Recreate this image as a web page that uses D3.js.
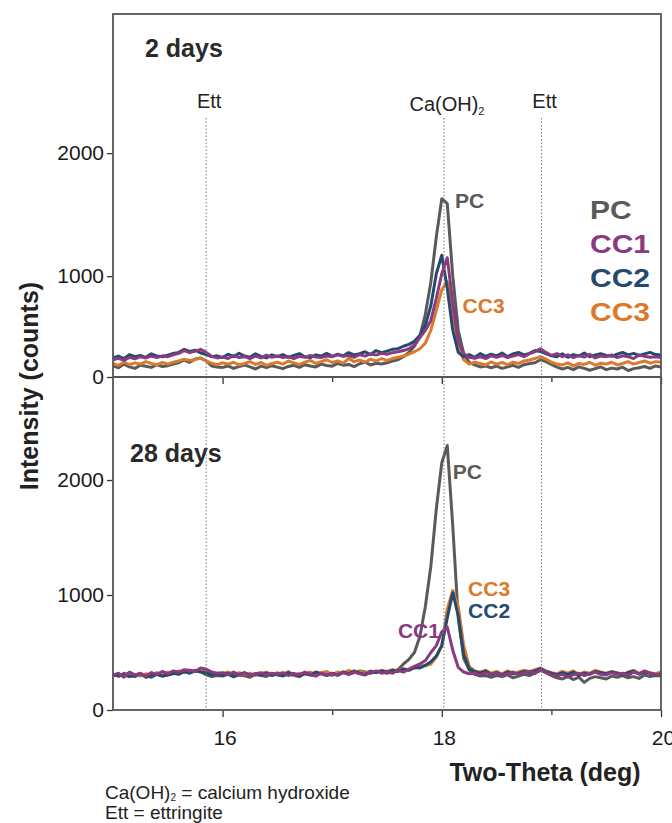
<!DOCTYPE html>
<html>
<head>
<meta charset="utf-8">
<script src="https://cdn.jsdelivr.net/npm/d3@7"></script>
<style>
	body { margin: 0; background: #fff; }
	text { font-family: "Liberation Sans", Arial, sans-serif; }
</style>
</head>
<body>
<div id="chart"></div>
<script>
// scan positions (deg), one row = 0.5 deg
const twoTheta = [
	15.00, 15.05, 15.10, 15.15, 15.20, 15.25, 15.30, 15.35, 15.40, 15.45,
	15.50, 15.55, 15.60, 15.65, 15.70, 15.75, 15.80, 15.85, 15.90, 15.95,
	16.00, 16.05, 16.10, 16.15, 16.20, 16.25, 16.30, 16.35, 16.40, 16.45,
	16.50, 16.55, 16.60, 16.65, 16.70, 16.75, 16.80, 16.85, 16.90, 16.95,
	17.00, 17.05, 17.10, 17.15, 17.20, 17.25, 17.30, 17.35, 17.40, 17.45,
	17.50, 17.55, 17.60, 17.65, 17.70, 17.75, 17.80, 17.85, 17.90, 17.95,
	18.00, 18.05, 18.10, 18.15, 18.20, 18.25, 18.30, 18.35, 18.40, 18.45,
	18.50, 18.55, 18.60, 18.65, 18.70, 18.75, 18.80, 18.85, 18.90, 18.95,
	19.00, 19.05, 19.10, 19.15, 19.20, 19.25, 19.30, 19.35, 19.40, 19.45,
	19.50, 19.55, 19.60, 19.65, 19.70, 19.75, 19.80, 19.85, 19.90, 19.95, 20.00
];

// 2 days
const pc_2d = [
	270, 255, 285, 262, 250, 275, 268, 258, 280, 265,
	272, 285, 296, 318, 300, 326, 334, 312, 270, 262,
	258, 270, 250, 265, 278, 262, 245, 268, 256, 272,
	260, 248, 266, 275, 258, 280, 270, 262, 285, 274,
	268, 290, 276, 282, 265, 288, 300, 278, 292, 286,
	296, 310, 320, 345, 380, 430, 510, 690, 950, 1320,
	1630, 1590, 1000, 560, 370, 300, 278, 262, 270, 255,
	268, 250, 262, 275, 258, 280, 290, 296, 320, 305,
	282, 260, 245, 258, 240, 262, 250, 235, 248, 262,
	240, 252, 245, 260, 232, 248, 255, 265, 250, 270, 262
];
const cc1_2d = [
	320, 332, 315, 340, 328, 345, 335, 350, 338, 352,
	345, 360, 372, 395, 378, 390, 405, 380, 348, 335,
	342, 330, 355, 338, 345, 330, 350, 335, 358, 340,
	352, 338, 345, 330, 348, 340, 355, 342, 338, 350,
	345, 360, 348, 355, 340, 362, 350, 368, 358, 372,
	365, 378, 385, 395, 410, 440, 500, 560, 640, 820,
	1020, 1150, 780, 470, 370, 340, 332, 345, 330, 352,
	340, 355, 338, 350, 362, 345, 370, 385, 410, 380,
	355, 370, 345, 360, 338, 355, 342, 365, 335, 350,
	345, 360, 338, 352, 345, 330, 358, 348, 340, 345, 338
];
const cc2_2d = [
	335, 350, 330, 362, 345, 355, 340, 368, 350, 345,
	358, 372, 380, 405, 388, 398, 375, 362, 345, 352,
	338, 365, 345, 372, 350, 340, 368, 348, 335, 360,
	345, 362, 340, 356, 370, 345, 338, 360, 350, 372,
	348, 365, 352, 378, 360, 370, 385, 362, 395, 378,
	390, 405, 410, 430, 445, 470, 520, 600, 760, 1020,
	1170, 900, 560, 380, 345, 362, 340, 370, 348, 365,
	352, 375, 345, 368, 380, 360, 372, 395, 388, 370,
	352, 345, 368, 340, 362, 350, 375, 345, 360, 370,
	355, 348, 365, 380, 360, 372, 355, 368, 380, 362, 358
];
const cc3_2d = [
	290, 275, 300, 280, 295, 285, 305, 290, 278, 298,
	285, 300, 310, 325, 315, 322, 335, 310, 292, 280,
	295, 285, 300, 278, 290, 305, 282, 298, 275, 290,
	300, 285, 310, 295, 280, 300, 315, 290, 305, 320,
	298, 310, 292, 330, 305, 318, 300, 325, 310, 330,
	315, 330, 340, 350, 365, 385, 410, 455, 560, 720,
	890, 955, 700, 420, 320, 285, 300, 290, 278, 302,
	285, 298, 280, 300, 290, 310, 318, 330, 345, 325,
	300, 285, 278, 295, 270, 290, 282, 300, 275, 292,
	285, 300, 278, 290, 305, 285, 298, 310, 292, 305, 300
];

// 28 days
const pc_28d = [
	310, 295, 320, 305, 290, 315, 300, 285, 310, 295,
	305, 318, 325, 340, 330, 345, 335, 305, 290, 300,
	295, 310, 288, 305, 298, 285, 310, 300, 292, 318,
	305, 295, 312, 300, 290, 315, 305, 298, 320, 310,
	302, 318, 330, 310, 325, 340, 330, 320, 335, 330,
	320, 335, 350, 400, 440, 500, 640, 900, 1250, 1750,
	2150, 2300, 1600, 800, 450, 350, 310, 295, 300, 285,
	300, 290, 305, 280, 295, 310, 300, 320, 345, 325,
	300, 280, 270, 290, 265, 285, 240, 275, 290, 280,
	270, 295, 285, 300, 280, 290, 275, 305, 290, 300, 295
];
const cc1_28d = [
	300, 320, 285, 330, 305, 320, 295, 325, 310, 335,
	315, 340, 330, 350, 345, 335, 365, 355, 330, 320,
	325, 310, 330, 305, 320, 300, 315, 325, 305, 320,
	310, 325, 300, 318, 305, 330, 310, 295, 320, 305,
	318, 300, 325, 310, 330, 315, 305, 325, 340, 320,
	335, 320, 345, 330, 355, 380, 400, 430, 500, 560,
	680, 720, 520, 370, 330, 315, 320, 305, 325, 310,
	320, 300, 315, 330, 310, 325, 335, 320, 350, 330,
	305, 295, 310, 290, 305, 320, 300, 315, 330, 310,
	305, 325, 310, 320, 300, 330, 315, 340, 320, 310, 305
];
const cc2_28d = [
	310, 295, 305, 290, 300, 315, 285, 300, 310, 295,
	305, 320, 310, 335, 320, 340, 330, 325, 305, 315,
	300, 320, 295, 310, 325, 300, 315, 305, 320, 300,
	315, 300, 325, 310, 295, 320, 305, 330, 315, 300,
	320, 305, 330, 315, 340, 320, 310, 335, 325, 340,
	330, 345, 335, 355, 345, 370, 365, 390, 420, 470,
	560, 800, 1020, 820, 480, 360, 335, 320, 340, 310,
	325, 305, 330, 315, 320, 335, 325, 340, 360, 335,
	320, 305, 325, 310, 330, 300, 320, 310, 335, 325,
	315, 330, 320, 305, 325, 340, 310, 330, 320, 305, 315
];
const cc3_28d = [
	295, 310, 300, 320, 305, 295, 315, 300, 325, 310,
	330, 315, 340, 325, 345, 335, 350, 330, 310, 320,
	315, 330, 305, 325, 310, 320, 300, 315, 330, 310,
	325, 310, 335, 300, 320, 315, 330, 305, 325, 335,
	310, 330, 320, 345, 325, 335, 320, 340, 330, 345,
	335, 350, 340, 360, 350, 365, 380, 385, 400, 460,
	560, 880, 1040, 900, 560, 380, 340, 330, 345, 320,
	335, 315, 340, 320, 330, 345, 335, 350, 365, 340,
	325, 315, 335, 320, 340, 310, 330, 320, 345, 330,
	320, 335, 325, 310, 330, 345, 320, 335, 325, 315, 330
];

const series_names = ["PC", "CC1", "CC2", "CC3"];
const series_colors = ["#5a5a5a", "#8a3a80", "#244a6e", "#d97a2c"];
const draw_order = ["PC", "CC3", "CC2", "CC1"];

const panel_titles = ["2 days", "28 days"];
// top panel axis bottom sits a bit above zero in the original
const y_domains = [[180, 3131], [0, 2896]];
const y_tick_values = [[180, 1000, 2000], [0, 1000, 2000]];
const y_tick_labels = [["0", "1000", "2000"], ["0", "1000", "2000"]];
const x_major_ticks = [16, 18, 20];
const x_minor_ticks = [17, 19];

// reference peaks (two-theta)
const phase_lines = [15.85, 18.02, 18.91];
const phase_names = ["Ett", "Ca(OH)", "Ett"];
const phase_subs = ["", "2", ""];

// peak labels in data coordinates: [name, twoTheta, intensity]
const peak_labels_2d = [["PC", 18.12, 1554], ["CC3", 18.19, 700]];
const peak_labels_28d = [["PC", 18.10, 2009], ["CC3", 18.24, 990], ["CC2", 18.24, 800], ["CC1", 17.60, 626]];

const panel_data = [
	{ PC: pc_2d, CC1: cc1_2d, CC2: cc2_2d, CC3: cc3_2d },
	{ PC: pc_28d, CC1: cc1_28d, CC2: cc2_28d, CC3: cc3_28d },
];
const panel_labels = [peak_labels_2d, peak_labels_28d];

const width = 672,
	height = 823;
const plot = { left: 113, right: 661, top: 14, mid: 377, bottom: 710 };
const panel_ranges = [
	[plot.mid, plot.top],
	[plot.bottom, plot.mid],
];

const color = d3.scaleOrdinal().domain(series_names).range(series_colors);

const svg = d3
	.select("#chart")
	.append("svg")
	.attr("width", width)
	.attr("height", height);

const x = d3.scaleLinear().domain([15, 20]).range([plot.left, plot.right]);

panel_data.forEach(function (data, p) {
	const y = d3.scaleLinear().domain(y_domains[p]).range(panel_ranges[p]);
	const g = svg.append("g");

	// series
	const line = d3
		.line()
		.x((d, i) => x(twoTheta[i]))
		.y((d) => y(d));
	draw_order.forEach(function (name) {
		g.append("path")
			.attr("d", line(data[name]))
			.attr("fill", "none")
			.attr("stroke", color(name))
			.attr("stroke-width", 3)
			.attr("stroke-linejoin", "round");
	});

	// y axis
	const y_axis = g
		.append("g")
		.attr("transform", "translate(" + plot.left + ",0)")
		.call(
			d3
				.axisLeft(y)
				.tickValues(y_tick_values[p])
				.tickSize(6)
				.tickPadding(3)
				.tickFormat((d, i) => y_tick_labels[p][i])
		);
	y_axis.select(".domain").remove();
	y_axis.selectAll("line").attr("stroke", "#333").attr("stroke-width", 1.3);
	y_axis
		.selectAll("text")
		.attr("font-size", 21)
		.attr("fill", "#1a1a1a")
		.style("font-family", "'Liberation Sans', Arial, sans-serif");

	// x ticks along the bottom of the panel
	const base = panel_ranges[p][0];
	const x_major = g
		.append("g")
		.attr("transform", "translate(0," + base + ")")
		.call(
			d3
				.axisBottom(x)
				.tickValues(x_major_ticks)
				.tickSize(7)
				.tickPadding(13)
				.tickFormat(p == 1 ? d3.format("d") : "")
		);
	x_major.select(".domain").remove();
	x_major.selectAll("line").attr("stroke", "#333").attr("stroke-width", 1.3);
	x_major
		.selectAll("text")
		.attr("font-size", 21)
		.attr("fill", "#1a1a1a")
		.attr("dx", 2)
		.style("font-family", "'Liberation Sans', Arial, sans-serif");
	const x_minor = g
		.append("g")
		.attr("transform", "translate(0," + base + ")")
		.call(d3.axisBottom(x).tickValues(x_minor_ticks).tickSize(5).tickFormat(""));
	x_minor.select(".domain").remove();
	x_minor.selectAll("line").attr("stroke", "#333").attr("stroke-width", 1.3);

	// panel title
	g.append("text")
		.attr("x", p == 0 ? 145 : 130)
		.attr("y", p == 0 ? 57 : 462)
		.attr("font-size", 25)
		.attr("font-weight", "bold")
		.attr("fill", "#2a2a2a")
		.text(panel_titles[p]);

	// peak labels
	g.selectAll("text.peak")
		.data(panel_labels[p])
		.enter()
		.append("text")
		.attr("class", "peak")
		.attr("x", (d) => x(d[1]))
		.attr("y", (d) => y(d[2]))
		.attr("font-size", 21)
		.attr("font-weight", "bold")
		.attr("fill", (d) => color(d[0]))
		.text((d) => d[0]);
});

// dotted phase lines through both panels
svg.selectAll("line.phase")
	.data(phase_lines)
	.enter()
	.append("line")
	.attr("class", "phase")
	.attr("x1", (d) => x(d))
	.attr("x2", (d) => x(d))
	.attr("y1", 118)
	.attr("y2", plot.bottom)
	.attr("stroke", "#777")
	.attr("stroke-width", 1)
	.attr("stroke-dasharray", "1.5,2");

const phase_text = svg
	.selectAll("text.phase")
	.data(phase_lines)
	.enter()
	.append("text")
	.attr("class", "phase")
	.attr("x", (d) => x(d) + 3)
	.attr("y", (d, i) => (i == 1 ? 111 : 108))
	.attr("text-anchor", "middle")
	.attr("font-size", 20)
	.attr("fill", "#222");
phase_text.append("tspan").text((d, i) => phase_names[i]);
phase_text
	.append("tspan")
	.attr("font-size", 11)
	.attr("dy", 4)
	.text((d, i) => phase_subs[i]);

// frames
svg.append("rect")
	.attr("x", plot.left)
	.attr("y", plot.top)
	.attr("width", plot.right - plot.left)
	.attr("height", plot.bottom - plot.top)
	.attr("fill", "none")
	.attr("stroke", "#555")
	.attr("stroke-width", 1.8);
svg.append("line")
	.attr("x1", plot.left)
	.attr("x2", plot.right)
	.attr("y1", plot.mid)
	.attr("y2", plot.mid)
	.attr("stroke", "#555")
	.attr("stroke-width", 1.8);

// legend
svg.selectAll("text.legend")
	.data(series_names)
	.enter()
	.append("text")
	.attr("class", "legend")
	.attr("transform", (d, i) => "translate(590," + (219 + i * 34) + ") scale(1.2,1)")
	.attr("font-size", 25)
	.attr("font-weight", "bold")
	.attr("fill", (d) => color(d))
	.text((d) => d);

// axis titles
svg.append("text")
	.attr("transform", "translate(38,386) rotate(-90)")
	.attr("text-anchor", "middle")
	.attr("font-size", 25)
	.attr("font-weight", "bold")
	.attr("fill", "#222")
	.text("Intensity (counts)");

svg.append("text")
	.attr("x", 545)
	.attr("y", 781)
	.attr("text-anchor", "middle")
	.attr("font-size", 25)
	.attr("font-weight", "bold")
	.attr("fill", "#222")
	.text("Two-Theta (deg)");

// footnote
const note1 = svg
	.append("text")
	.attr("x", 105)
	.attr("y", 799)
	.attr("font-size", 19)
	.attr("fill", "#222");
note1.append("tspan").text("Ca(OH)");
note1.append("tspan").attr("font-size", 10).attr("dy", 2).text("2");
note1.append("tspan").attr("dy", -2).text(" = calcium hydroxide");
svg.append("text")
	.attr("x", 105)
	.attr("y", 819)
	.attr("font-size", 19)
	.attr("fill", "#222")
	.text("Ett = ettringite");
</script>
</body>
</html>
